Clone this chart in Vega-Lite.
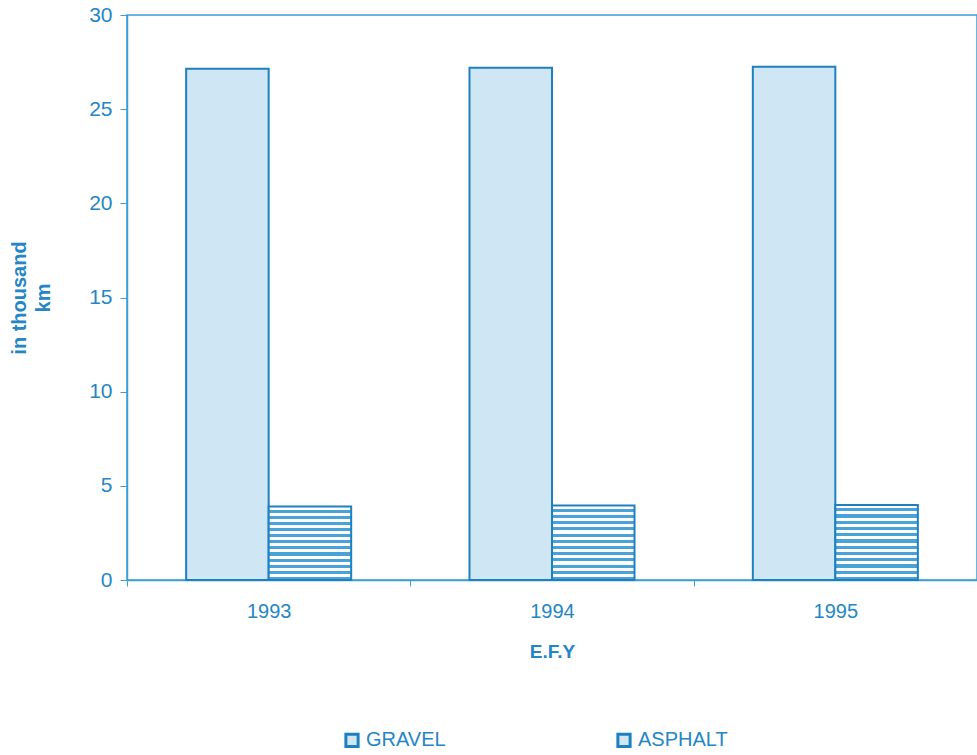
{
  "$schema": "https://vega.github.io/schema/vega-lite/v6.json",
  "autosize": "none",
  "padding": {"left": 127, "top": 15, "right": 0, "bottom": 175},
  "width": 850,
  "height": 565,
  "background": "white",
  "config": {
    "font": "Liberation Sans",
    "view": {"stroke": "#3a9fd8", "strokeWidth": 1.5},
    "axis": {"domainColor": "#3a9fd8", "tickColor": "#3a9fd8", "labelColor": "#2486c4", "titleColor": "#2486c4", "grid": false, "labelFont": "Liberation Sans", "titleFont": "Liberation Sans"}
  },
  "data": {
    "values": [
      {"year": "1993", "type": "GRAVEL", "km": 27.15},
      {"year": "1993", "type": "ASPHALT", "km": 3.9},
      {"year": "1994", "type": "GRAVEL", "km": 27.2},
      {"year": "1994", "type": "ASPHALT", "km": 3.95},
      {"year": "1995", "type": "GRAVEL", "km": 27.25},
      {"year": "1995", "type": "ASPHALT", "km": 3.98}
    ]
  },
  "mark": {"type": "bar", "strokeWidth": 2},
  "encoding": {
    "x": {
      "field": "year", "type": "nominal",
      "scale": {"paddingInner": 0, "paddingOuter": 0},
      "axis": {"title": "E.F.Y", "titleFontSize": 19, "titleFontWeight": "bold", "titlePadding": 21, "labelAngle": 0, "labelFontSize": 20, "labelPadding": 15, "tickSize": 6, "tickBand": "extent", "domainWidth": 1.5}
    },
    "xOffset": {
      "field": "type", "type": "nominal", "sort": ["GRAVEL", "ASPHALT"],
      "scale": {"paddingInner": 0, "paddingOuter": 0.717}
    },
    "y": {
      "field": "km", "type": "quantitative",
      "scale": {"domain": [0, 30]},
      "axis": {"title": ["in thousand", "km"], "titleFontSize": 20, "titleFontWeight": "bold", "titleLineHeight": 24, "titlePadding": 35, "values": [0, 5, 10, 15, 20, 25, 30], "labelFontSize": 21, "labelPadding": 8, "tickSize": 7, "domainWidth": 1.5}
    },
    "stroke": {
      "field": "type", "type": "nominal", "sort": ["GRAVEL", "ASPHALT"],
      "scale": {"domain": ["GRAVEL", "ASPHALT"], "range": ["#1f80c0", "#1f80c0"]},
      "legend": {
        "title": null, "orient": "none", "legendX": 215, "legendY": 715,
        "direction": "horizontal", "columns": 2, "columnPadding": 165,
        "symbolType": "square", "symbolSize": 150, "symbolStrokeWidth": 3, "symbolFillColor": "white",
        "labelFontSize": 20, "labelColor": "#2486c4", "labelOffset": 4, "labelFont": "Liberation Sans",
        "encode": {"symbols": {"update": {"fill": {"value": "white"}}}}
      }
    },
    "fill": {
      "condition": {
        "test": "datum.type === 'ASPHALT'",
        "value": {
          "gradient": "linear", "x1": 0, "y1": 0, "x2": 0, "y2": 1,
          "stops": [
            {"offset": 0, "color": "#ffffff"}, {"offset": 0.042, "color": "#ffffff"}, {"offset": 0.042, "color": "#4aa3d8"}, {"offset": 0.0833, "color": "#4aa3d8"},
            {"offset": 0.0833, "color": "#ffffff"}, {"offset": 0.125, "color": "#ffffff"}, {"offset": 0.125, "color": "#4aa3d8"}, {"offset": 0.1667, "color": "#4aa3d8"},
            {"offset": 0.1667, "color": "#ffffff"}, {"offset": 0.2083, "color": "#ffffff"}, {"offset": 0.2083, "color": "#4aa3d8"}, {"offset": 0.25, "color": "#4aa3d8"},
            {"offset": 0.25, "color": "#ffffff"}, {"offset": 0.2917, "color": "#ffffff"}, {"offset": 0.2917, "color": "#4aa3d8"}, {"offset": 0.3333, "color": "#4aa3d8"},
            {"offset": 0.3333, "color": "#ffffff"}, {"offset": 0.375, "color": "#ffffff"}, {"offset": 0.375, "color": "#4aa3d8"}, {"offset": 0.4167, "color": "#4aa3d8"},
            {"offset": 0.4167, "color": "#ffffff"}, {"offset": 0.4583, "color": "#ffffff"}, {"offset": 0.4583, "color": "#4aa3d8"}, {"offset": 0.5, "color": "#4aa3d8"},
            {"offset": 0.5, "color": "#ffffff"}, {"offset": 0.5417, "color": "#ffffff"}, {"offset": 0.5417, "color": "#4aa3d8"}, {"offset": 0.5833, "color": "#4aa3d8"},
            {"offset": 0.5833, "color": "#ffffff"}, {"offset": 0.625, "color": "#ffffff"}, {"offset": 0.625, "color": "#4aa3d8"}, {"offset": 0.6667, "color": "#4aa3d8"},
            {"offset": 0.6667, "color": "#ffffff"}, {"offset": 0.7083, "color": "#ffffff"}, {"offset": 0.7083, "color": "#4aa3d8"}, {"offset": 0.75, "color": "#4aa3d8"},
            {"offset": 0.75, "color": "#ffffff"}, {"offset": 0.7917, "color": "#ffffff"}, {"offset": 0.7917, "color": "#4aa3d8"}, {"offset": 0.8333, "color": "#4aa3d8"},
            {"offset": 0.8333, "color": "#ffffff"}, {"offset": 0.875, "color": "#ffffff"}, {"offset": 0.875, "color": "#4aa3d8"}, {"offset": 0.9167, "color": "#4aa3d8"},
            {"offset": 0.9167, "color": "#ffffff"}, {"offset": 0.9583, "color": "#ffffff"}, {"offset": 0.9583, "color": "#4aa3d8"}, {"offset": 1, "color": "#4aa3d8"}
          ]
        }
      },
      "value": "#cfe6f4"
    }
  }
}
